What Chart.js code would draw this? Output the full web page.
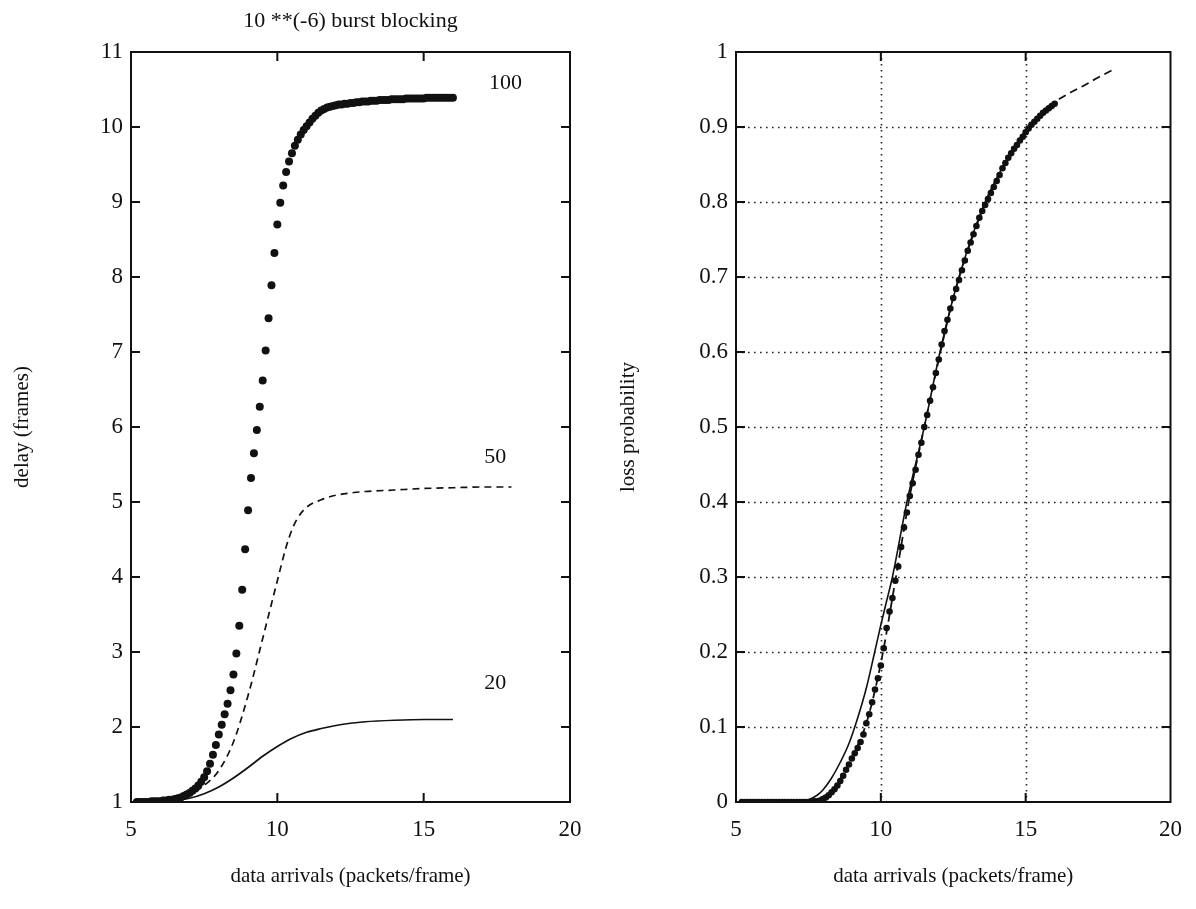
<!DOCTYPE html>
<html lang="en">
<head>
<meta charset="UTF-8">
<title>Burst blocking: delay and loss</title>
<script src="https://cdn.jsdelivr.net/npm/chart.js"></script>
<style>
  html, body { margin: 0; padding: 0; background: #fff; }
  #wrap { position: relative; width: 1196px; height: 909px; }
  .pane { position: absolute; top: 0; width: 598px; height: 909px; }
</style>
</head>
<body>
<div id="wrap">
  <div class="pane" style="left:0"><canvas id="delayChart" width="598" height="909"></canvas></div>
  <div class="pane" style="left:598px"><canvas id="lossChart" width="598" height="909"></canvas></div>
</div>
<script>
// sample points of the dotted (100) curves, one every 0.1 packets/frame
const xDots = [
  5.2, 5.3, 5.4, 5.5, 5.6, 5.7, 5.8, 5.9, 6.0, 6.1,
  6.2, 6.3, 6.4, 6.5, 6.6, 6.7, 6.8, 6.9, 7.0, 7.1,
  7.2, 7.3, 7.4, 7.5, 7.6, 7.7, 7.8, 7.9, 8.0, 8.1,
  8.2, 8.3, 8.4, 8.5, 8.6, 8.7, 8.8, 8.9, 9.0, 9.1,
  9.2, 9.3, 9.4, 9.5, 9.6, 9.7, 9.8, 9.9, 10.0, 10.1,
  10.2, 10.3, 10.4, 10.5, 10.6, 10.7, 10.8, 10.9, 11.0, 11.1,
  11.2, 11.3, 11.4, 11.5, 11.6, 11.7, 11.8, 11.9, 12.0, 12.1,
  12.2, 12.3, 12.4, 12.5, 12.6, 12.7, 12.8, 12.9, 13.0, 13.1,
  13.2, 13.3, 13.4, 13.5, 13.6, 13.7, 13.8, 13.9, 14.0, 14.1,
  14.2, 14.3, 14.4, 14.5, 14.6, 14.7, 14.8, 14.9, 15.0, 15.1,
  15.2, 15.3, 15.4, 15.5, 15.6, 15.7, 15.8, 15.9, 16.0
];
const delay100 = [
  1.00, 1.00, 1.00, 1.00, 1.00, 1.01, 1.01, 1.01, 1.01, 1.02,
  1.02, 1.03, 1.03, 1.04, 1.05, 1.06, 1.08, 1.10, 1.12, 1.15,
  1.18, 1.22, 1.27, 1.33, 1.41, 1.51, 1.63, 1.76, 1.90, 2.03,
  2.17, 2.31, 2.49, 2.70, 2.98, 3.35, 3.83, 4.37, 4.89, 5.32,
  5.65, 5.96, 6.27, 6.62, 7.02, 7.45, 7.89, 8.32, 8.70, 8.99,
  9.22, 9.40, 9.54, 9.65, 9.75, 9.83, 9.90, 9.96, 10.01, 10.06,
  10.11, 10.15, 10.19, 10.22, 10.24, 10.26, 10.27, 10.28, 10.29, 10.30,
  10.30, 10.31, 10.31, 10.32, 10.32, 10.33, 10.33, 10.34, 10.34, 10.34,
  10.35, 10.35, 10.35, 10.36, 10.36, 10.36, 10.36, 10.37, 10.37, 10.37,
  10.37, 10.37, 10.38, 10.38, 10.38, 10.38, 10.38, 10.38, 10.38, 10.39,
  10.39, 10.39, 10.39, 10.39, 10.39, 10.39, 10.39, 10.39, 10.39
];
const loss100 = [
  0, 0, 0, 0, 0, 0, 0, 0, 0, 0,
  0, 0, 0, 0, 0, 0, 0, 0, 0, 0,
  0, 0, 0, 0, 0, 0.001, 0.001, 0.002, 0.004, 0.006,
  0.009, 0.013, 0.017, 0.022, 0.028, 0.035, 0.043, 0.050, 0.058, 0.065,
  0.072, 0.080, 0.090, 0.105, 0.117, 0.133, 0.150, 0.165, 0.182, 0.205,
  0.232, 0.254, 0.272, 0.295, 0.314, 0.340, 0.366, 0.386, 0.408, 0.425,
  0.443, 0.463, 0.479, 0.500, 0.516, 0.535, 0.553, 0.572, 0.590, 0.610,
  0.628, 0.643, 0.658, 0.672, 0.684, 0.696, 0.709, 0.722, 0.735, 0.746,
  0.757, 0.768, 0.779, 0.788, 0.796, 0.804, 0.812, 0.820, 0.828, 0.836,
  0.845, 0.852, 0.859, 0.865, 0.871, 0.876, 0.882, 0.887, 0.893, 0.898,
  0.903, 0.907, 0.911, 0.915, 0.919, 0.922, 0.925, 0.928, 0.931
];

// dashed (50) and solid (20) delay curves
const x50 = [5.2, 6.0, 6.5, 7.0, 7.5, 8.0, 8.5, 9.0, 9.5, 10.0, 10.3, 10.5, 10.7, 11.0, 11.5, 12.0, 12.5, 13.0, 14.0, 15.0, 16.0, 17.0, 18.0];
const delay50 = [1.00, 1.01, 1.04, 1.10, 1.22, 1.42, 1.80, 2.42, 3.18, 3.95, 4.40, 4.63, 4.79, 4.93, 5.03, 5.09, 5.12, 5.14, 5.16, 5.18, 5.19, 5.20, 5.20];
const x20 = [5.2, 6.0, 6.5, 7.0, 7.5, 8.0, 8.5, 9.0, 9.5, 10.0, 10.5, 11.0, 11.5, 12.0, 12.5, 13.0, 14.0, 15.0, 16.0];
const delay20 = [1.00, 1.01, 1.02, 1.05, 1.11, 1.20, 1.32, 1.46, 1.61, 1.74, 1.85, 1.93, 1.98, 2.02, 2.05, 2.07, 2.09, 2.10, 2.10];

// loss curves: solid and dashed
const xLossSolid = [5.2, 7.0, 7.5, 7.8, 8.0, 8.3, 8.6, 8.9, 9.2, 9.5, 9.8, 10.0, 10.2, 10.4, 10.9, 11.5, 12.1, 12.7, 13.6, 14.5, 15.1, 16.0];
const lossSolid = [0, 0, 0.003, 0.009, 0.016, 0.032, 0.053, 0.078, 0.112, 0.152, 0.202, 0.236, 0.268, 0.300, 0.400, 0.500, 0.610, 0.700, 0.800, 0.866, 0.900, 0.931];
const xLossDash = [5.2, 7.5, 8.0, 8.5, 9.0, 9.5, 10.0, 10.5, 11.0, 11.5, 12.0, 12.5, 13.0, 13.5, 14.0, 14.5, 15.0, 15.5, 16.0, 16.5, 17.0, 17.5, 18.0];
const lossDash = [0, 0.001, 0.006, 0.025, 0.060, 0.105, 0.185, 0.295, 0.408, 0.500, 0.590, 0.672, 0.735, 0.788, 0.828, 0.865, 0.893, 0.915, 0.933, 0.945, 0.955, 0.966, 0.976];

// axis ticks
const xTicks = [5, 10, 15, 20];
const delayTicks = [1, 2, 3, 4, 5, 6, 7, 8, 9, 10, 11];
const lossTicks = [0, 0.1, 0.2, 0.3, 0.4, 0.5, 0.6, 0.7, 0.8, 0.9, 1];
const lossTickLabels = ['0', '0.1', '0.2', '0.3', '0.4', '0.5', '0.6', '0.7', '0.8', '0.9', '1'];

// curve names written next to the delay curves (data coords)
const curveTags = [
  { text: '100', x: 17.8, y: 10.58 },
  { text: '50', x: 17.45, y: 5.6 },
  { text: '20', x: 17.45, y: 2.58 }
];

const SERIF = "'Liberation Serif', 'DejaVu Serif', serif";
const INK = '#111';

const pts = (xs, ys) => xs.map((x, i) => ({ x, y: ys[i] }));

// box around the plot, ticks pointing inwards, dotted grid if asked
const framePlugin = {
  id: 'frame',
  beforeDatasetsDraw(chart, args, opts) {
    if (!opts.grid) return;
    const { ctx, chartArea: a, scales: { x, y } } = chart;
    ctx.save();
    ctx.strokeStyle = '#222';
    ctx.lineWidth = 1.6;
    ctx.setLineDash([1.6, 4.4]);
    ctx.beginPath();
    opts.gridX.forEach(v => {
      const px = Math.round(x.getPixelForValue(v)) + 0.5;
      ctx.moveTo(px, a.top); ctx.lineTo(px, a.bottom);
    });
    opts.gridY.forEach(v => {
      const py = Math.round(y.getPixelForValue(v)) + 0.5;
      ctx.moveTo(a.left, py); ctx.lineTo(a.right, py);
    });
    ctx.stroke();
    ctx.restore();
  },
  afterDatasetsDraw(chart, args, opts) {
    const { ctx, chartArea: a, scales: { x, y } } = chart;
    const len = 9;
    ctx.save();
    ctx.strokeStyle = INK;
    ctx.lineWidth = 2;
    ctx.setLineDash([]);
    ctx.beginPath();
    x.ticks.forEach(t => {
      if (t.value <= x.min || t.value >= x.max) return;
      const px = x.getPixelForValue(t.value);
      ctx.moveTo(px, a.bottom); ctx.lineTo(px, a.bottom - len);
      ctx.moveTo(px, a.top); ctx.lineTo(px, a.top + len);
    });
    y.ticks.forEach(t => {
      if (t.value <= y.min || t.value >= y.max) return;
      const py = y.getPixelForValue(t.value);
      ctx.moveTo(a.left, py); ctx.lineTo(a.left + len, py);
      ctx.moveTo(a.right, py); ctx.lineTo(a.right - len, py);
    });
    ctx.stroke();
    ctx.strokeRect(a.left, a.top, a.right - a.left, a.bottom - a.top);
    ctx.restore();
  }
};

const tagPlugin = {
  id: 'tags',
  afterDraw(chart, args, opts) {
    if (!opts.items) return;
    const { ctx, scales: { x, y } } = chart;
    ctx.save();
    ctx.fillStyle = INK;
    ctx.font = `22px ${SERIF}`;
    ctx.textAlign = 'center';
    ctx.textBaseline = 'middle';
    opts.items.forEach(t => ctx.fillText(t.text, x.getPixelForValue(t.x), y.getPixelForValue(t.y)));
    ctx.restore();
  }
};

function scales(yMin, yMax, yTickVals, yLabel, yFmt, yTitlePad, yAxisWidth) {
  return {
    x: {
      type: 'linear', min: 5, max: 20,
      afterBuildTicks: s => { s.ticks = xTicks.map(v => ({ value: v })); },
      afterFit: s => { s.height = 107; },
      grid: { display: false, drawTicks: false },
      border: { display: false },
      ticks: { color: INK, font: { family: SERIF, size: 23 }, padding: 14, maxRotation: 0 },
      title: { display: true, text: 'data arrivals (packets/frame)', color: INK,
               font: { family: SERIF, size: 21 }, padding: { top: 0, bottom: 20 } }
    },
    y: {
      type: 'linear', min: yMin, max: yMax,
      afterBuildTicks: s => { s.ticks = yTickVals.map(v => ({ value: v })); },
      afterFit: s => { s.width = yAxisWidth; },
      grid: { display: false, drawTicks: false },
      border: { display: false },
      ticks: { color: INK, font: { family: SERIF, size: 23 }, padding: 8, callback: yFmt },
      title: { display: true, text: yLabel, color: INK,
               font: { family: SERIF, size: 21 }, padding: { top: yTitlePad, bottom: 0 } }
    }
  };
}

Chart.defaults.animation = false;

new Chart(document.getElementById('delayChart'), {
  type: 'scatter',
  data: {
    datasets: [
      { label: '100', data: pts(xDots, delay100), pointRadius: 4, pointBackgroundColor: INK, pointBorderWidth: 0, showLine: false },
      { label: '50', data: pts(x50, delay50), showLine: true, pointRadius: 0, borderColor: INK, borderWidth: 1.7,
        borderDash: [7, 5], cubicInterpolationMode: 'monotone' },
      { label: '20', data: pts(x20, delay20), showLine: true, pointRadius: 0, borderColor: INK, borderWidth: 1.7,
        cubicInterpolationMode: 'monotone' }
    ]
  },
  options: {
    responsive: false,
    layout: { padding: { left: 0, right: 28, top: 0, bottom: 0 } },
    scales: scales(1, 11, delayTicks, 'delay (frames)', v => v, 10, 131),
    plugins: {
      legend: { display: false },
      tooltip: { enabled: false },
      title: { display: true, fullSize: false, text: '10 **(-6) burst blocking', color: INK,
               font: { family: SERIF, size: 22, weight: 'normal' }, padding: { top: 8, bottom: 17.6 } },
      frame: { grid: false },
      tags: { items: curveTags }
    }
  },
  plugins: [framePlugin, tagPlugin]
});

new Chart(document.getElementById('lossChart'), {
  type: 'scatter',
  data: {
    datasets: [
      { label: 'dashed', data: pts(xLossDash, lossDash), showLine: true, pointRadius: 0, borderColor: INK, borderWidth: 1.8,
        borderDash: [8, 5], cubicInterpolationMode: 'monotone' },
      { label: 'solid', data: pts(xLossSolid, lossSolid), showLine: true, pointRadius: 0, borderColor: INK, borderWidth: 1.6,
        cubicInterpolationMode: 'monotone' },
      { label: 'dots', data: pts(xDots, loss100), pointRadius: 3.3, pointBackgroundColor: INK, pointBorderWidth: 0, showLine: false }
    ]
  },
  options: {
    responsive: false,
    layout: { padding: { left: 0, right: 23, top: 52, bottom: 0 } },
    scales: scales(0, 1, lossTicks, 'loss probability', (v, i) => lossTickLabels[i], 18, 138),
    plugins: {
      legend: { display: false },
      tooltip: { enabled: false },
      frame: { grid: true, gridX: [10, 15], gridY: [0.1, 0.2, 0.3, 0.4, 0.5, 0.6, 0.7, 0.8, 0.9] }
    }
  },
  plugins: [framePlugin]
});
</script>
</body>
</html>
